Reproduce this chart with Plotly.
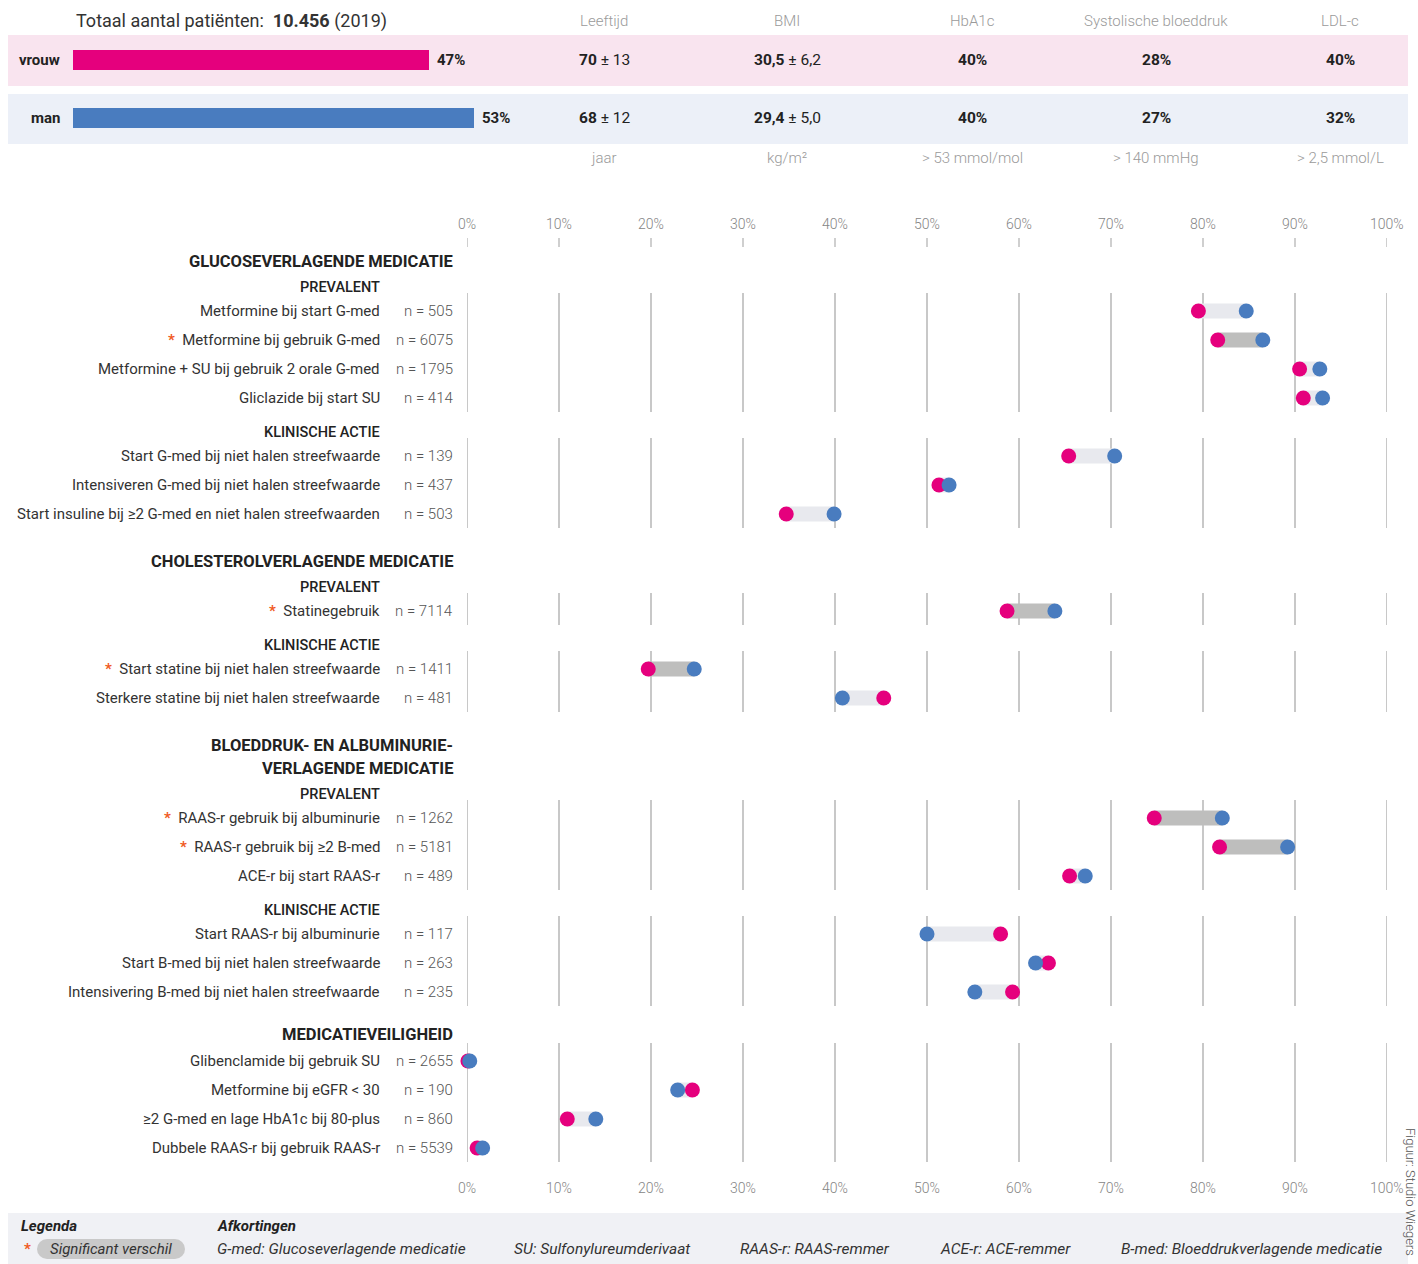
import plotly.graph_objects as go

W, H = 1418, 1264
FONT = "Roboto"

# ---------------- data ----------------
total_patients = "10.456"
year = "2019"
sexes = ["vrouw", "man"]
sex_share = [47, 53]
sex_colors = ["#e5007d", "#497cbf"]
header_cols = ["Leeftijd", "BMI", "HbA1c", "Systolische bloeddruk", "LDL-c"]
header_units = ["jaar", "kg/m²", "> 53 mmol/mol", "> 140 mmHg", "> 2,5 mmol/L"]
vrouw_main = ["70", "30,5", "40%", "28%", "40%"]
vrouw_sd = [" ± 13", " ± 6,2", "", "", ""]
man_main = ["68", "29,4", "40%", "27%", "32%"]
man_sd = [" ± 12", " ± 5,0", "", "", ""]

section_titles = [
    ["GLUCOSEVERLAGENDE MEDICATIE"],
    ["CHOLESTEROLVERLAGENDE MEDICATIE"],
    ["BLOEDDRUK- EN ALBUMINURIE-", "VERLAGENDE MEDICATIE"],
    ["MEDICATIEVEILIGHEID"],
]
row_labels = [
    "Metformine bij start G-med",
    "Metformine bij gebruik G-med",
    "Metformine + SU bij gebruik 2 orale G-med",
    "Gliclazide bij start SU",
    "Start G-med bij niet halen streefwaarde",
    "Intensiveren G-med bij niet halen streefwaarde",
    "Start insuline bij ≥2 G-med en niet halen streefwaarden",
    "Statinegebruik",
    "Start statine bij niet halen streefwaarde",
    "Sterkere statine bij niet halen streefwaarde",
    "RAAS-r gebruik bij albuminurie",
    "RAAS-r gebruik bij ≥2 B-med",
    "ACE-r bij start RAAS-r",
    "Start RAAS-r bij albuminurie",
    "Start B-med bij niet halen streefwaarde",
    "Intensivering B-med bij niet halen streefwaarde",
    "Glibenclamide bij gebruik SU",
    "Metformine bij eGFR < 30",
    "≥2 G-med en lage HbA1c bij 80-plus",
    "Dubbele RAAS-r bij gebruik RAAS-r",
]
row_n = [505, 6075, 1795, 414, 139, 437, 503, 7114, 1411, 481,
         1262, 5181, 489, 117, 263, 235, 2655, 190, 860, 5539]
vrouw_pct = [79.5, 81.6, 90.5, 90.9, 65.4, 51.3, 34.7, 58.7, 19.7, 45.3,
             74.7, 81.8, 65.5, 58.0, 63.2, 59.3, 0.1, 24.5, 10.9, 1.1]
man_pct = [84.7, 86.5, 92.7, 93.0, 70.4, 52.4, 39.9, 63.9, 24.7, 40.8,
           82.1, 89.2, 67.2, 50.0, 61.8, 55.2, 0.3, 22.9, 14.0, 1.7]
significant = [False, True, False, False, False, False, False, True, True, False,
               True, True, False, False, False, False, False, False, False, False]
row_section = [0, 0, 0, 0, 0, 0, 0, 1, 1, 1, 2, 2, 2, 2, 2, 2, 3, 3, 3, 3]
row_subgroup = (["PREVALENT"] * 4 + ["KLINISCHE ACTIE"] * 3 + ["PREVALENT"]
                + ["KLINISCHE ACTIE"] * 2 + ["PREVALENT"] * 3
                + ["KLINISCHE ACTIE"] * 3 + [""] * 4)
tick_vals = [0, 10, 20, 30, 40, 50, 60, 70, 80, 90, 100]
abbreviations = [
    "G-med: Glucoseverlagende medicatie",
    "SU: Sulfonylureumderivaat",
    "RAAS-r: RAAS-remmer",
    "ACE-r: ACE-remmer",
    "B-med: Bloeddrukverlagende medicatie",
]

# ---------------- layout computation ----------------
START_Y = 261
TITLE_LINE = 23
TITLE_TO_SUB = 26
TITLE_TO_ROW = 27
SUB_TO_ROW = 24
ROW = 29
ROW_TO_SUB = 34
ROW_TO_TITLE = 47
ROW_TO_TITLE_NOSUB = 42

row_y, titles, subs, segments = [], [], [], []
prev_sec, prev_sub = None, None
seg_start = None
y = START_Y
for i in range(len(row_labels)):
    sec, sub = row_section[i], row_subgroup[i]
    if sec != prev_sec:
        if prev_sec is not None:
            segments.append((seg_start, row_y[-1]))
            y = row_y[-1] + (ROW_TO_TITLE if sub else ROW_TO_TITLE_NOSUB)
        last = y
        for line in section_titles[sec]:
            titles.append((line, y))
            last = y
            y += TITLE_LINE
        if sub:
            sy = last + TITLE_TO_SUB
            subs.append((sub, sy))
            ry = sy + SUB_TO_ROW
        else:
            ry = last + TITLE_TO_ROW
        seg_start = ry
    elif sub != prev_sub:
        segments.append((seg_start, row_y[-1]))
        sy = row_y[-1] + ROW_TO_SUB
        subs.append((sub, sy))
        ry = sy + SUB_TO_ROW
        seg_start = ry
    else:
        ry = row_y[-1] + ROW
    row_y.append(ry)
    prev_sec, prev_sub = sec, sub
segments.append((seg_start, row_y[-1]))

LABEL_X = 382
N_X = 455
HEADER_ROW_Y = [60, 118]
COL_X = [604, 787, 972, 1156, 1340]


def px(x):
    return x / W


def py(y):
    return 1 - y / H


def txt(x, y, s, size=15, color="#333333", anchor="left", weight=400,
        italic=False, angle=0, xref="x4"):
    return dict(x=x, y=y, xref=xref, yref="y", text=s, showarrow=False,
                xanchor=anchor, yanchor="middle", textangle=angle,
                font=dict(family=FONT, size=size, color=color, weight=weight,
                          style="italic" if italic else "normal"))


def band(x0, x1, y0, y1, color):
    return dict(type="rect", xref="paper", yref="paper", x0=px(x0), x1=px(x1),
                y0=py(y1), y1=py(y0), fillcolor=color, line=dict(width=0), layer="below")


fig = go.Figure()

# pixel-space helper subplot (invisible)
fig.add_trace(go.Scatter(x=[0, W], y=[0, H], xaxis="x4", yaxis="y",
                         mode="markers", marker=dict(opacity=0),
                         hoverinfo="skip", showlegend=False))

shapes = []
annotations = []

# header bands + legend band (paper-referenced so they sit below every subplot)
shapes.append(band(8, 1408, 35, 86, "#f9e4ef"))
shapes.append(band(8, 1408, 94, 144, "#ecf0f8"))
shapes.append(band(8, 1408, 1213, 1264, "#f0f1f5"))

# header share bars
fig.add_trace(go.Bar(x=sex_share, y=HEADER_ROW_Y, orientation="h", width=20,
                     marker=dict(color=sex_colors, line=dict(width=0)),
                     xaxis="x2", yaxis="y", hoverinfo="skip", showlegend=False))
for s, v, hy in zip(sexes, sex_share, HEADER_ROW_Y):
    annotations.append(txt(62, hy, f"<b>{s}</b>", size=15, color="#222222", anchor="right"))
    a = txt(v, hy, f"<b>{v}%</b>", size=15, color="#222222", xref="x2")
    a["xshift"] = 6
    annotations.append(a)

annotations.append(txt(74, 21, f"Totaal aantal patiënten:  <b>{total_patients}</b> ({year})",
                       size=18, color="#333333"))
for cx, c, u in zip(COL_X, header_cols, header_units):
    annotations.append(txt(cx, 21, c, size=15, color="#9a9a9a", anchor="center", weight=300))
    annotations.append(txt(cx, 158, u, size=15, color="#9a9a9a", anchor="center", weight=300))
for cx, m, sd in zip(COL_X, vrouw_main, vrouw_sd):
    annotations.append(txt(cx, HEADER_ROW_Y[0], f"<b>{m}</b>{sd}", size=15.5,
                           color="#222222", anchor="center"))
for cx, m, sd in zip(COL_X, man_main, man_sd):
    annotations.append(txt(cx, HEADER_ROW_Y[1], f"<b>{m}</b>{sd}", size=15.5,
                           color="#222222", anchor="center"))

# axis tick labels + small top ticks + segmented gridlines
for t in tick_vals:
    annotations.append(txt(t, 224, f"{t}%", size=14, color="#858585", anchor="center",
                           weight=300, xref="x"))
    annotations.append(txt(t, 1188, f"{t}%", size=14, color="#858585", anchor="center",
                           weight=300, xref="x"))
    shapes.append(dict(type="line", xref="x", yref="y", x0=t, x1=t, y0=238, y1=247,
                       line=dict(color="#b5b5b5", width=1.3), layer="below"))
    for (a0, b0) in segments:
        shapes.append(dict(type="line", xref="x", yref="y", x0=t, x1=t,
                           y0=a0 - 18, y1=b0 + 14,
                           line=dict(color="#ababab", width=1.3), layer="below"))

# section titles and subgroup headings
for line, ty in titles:
    annotations.append(txt(N_X, ty, f"<b>{line}</b>", size=16.5, color="#222222", anchor="right"))
for sub, sy in subs:
    annotations.append(txt(LABEL_X, sy, sub, size=14.5, color="#222222", anchor="right", weight=500))

# row labels
for lab, n, sig, ry in zip(row_labels, row_n, significant, row_y):
    s = lab
    if sig:
        s = "<span style='color:#f05a22'><b>*</b></span>  " + lab
    annotations.append(txt(LABEL_X, ry, s, size=15, color="#333333", anchor="right"))
    annotations.append(txt(N_X, ry, f"n = {n}", size=15, color="#555555", anchor="right", weight=300))

# connectors
for flag, col in [(False, "#e8e9ee"), (True, "#bebebd")]:
    xs, ys = [], []
    for v, m, sig, ry in zip(vrouw_pct, man_pct, significant, row_y):
        if sig == flag:
            xs += [v, m, None]
            ys += [ry, ry, None]
    fig.add_trace(go.Scatter(x=xs, y=ys, mode="lines", xaxis="x", yaxis="y",
                             line=dict(color=col, width=15), hoverinfo="skip",
                             showlegend=False, cliponaxis=False))

# dots
for name, vals, col in [("vrouw", vrouw_pct, sex_colors[0]), ("man", man_pct, sex_colors[1])]:
    fig.add_trace(go.Scatter(x=vals, y=row_y, mode="markers", xaxis="x", yaxis="y",
                             marker=dict(color=col, size=15, line=dict(width=0)),
                             name=name, showlegend=False, cliponaxis=False))

# legend / abbreviations
annotations.append(txt(19, 1226, "<b>Legenda</b>", size=15, color="#222222", italic=True))
annotations.append(txt(215, 1226, "<b>Afkortingen</b>", size=15, color="#222222", italic=True))
shapes.append(dict(type="rect", xref="x4", yref="y", x0=47, x1=175, y0=1239, y1=1259,
                   fillcolor="#c9c9c9", line=dict(width=0)))
shapes.append(dict(type="circle", xref="x4", yref="y", x0=37, x1=57, y0=1239, y1=1259,
                   fillcolor="#c9c9c9", line=dict(width=0)))
shapes.append(dict(type="circle", xref="x4", yref="y", x0=165, x1=185, y0=1239, y1=1259,
                   fillcolor="#c9c9c9", line=dict(width=0)))
annotations.append(txt(27, 1249, "<b>*</b>", size=15, color="#f05a22", anchor="center"))
annotations.append(txt(111, 1249, "Significant verschil", size=15, color="#333333",
                       anchor="center", italic=True))
for ax, ab in zip([215, 512, 738, 938, 1119], abbreviations):
    annotations.append(txt(ax, 1249, ab, size=15.5, color="#333333", italic=True))

annotations.append(txt(1411, 1192, "Figuur: Studio Wiegers", size=13, color="#555555",
                       anchor="center", angle=90, weight=300))

hidden = dict(showgrid=False, zeroline=False, showticklabels=False, ticks="",
              showline=False, fixedrange=True)
fig.update_layout(
    width=W, height=H,
    margin=dict(l=0, r=0, t=0, b=0),
    paper_bgcolor="white", plot_bgcolor="rgba(0,0,0,0)",
    xaxis=dict(domain=[467 / W, 1387 / W], range=[0, 100], anchor="y", **hidden),
    xaxis2=dict(domain=[73 / W, 830 / W], range=[0, 100], anchor="y", **hidden),
    xaxis4=dict(domain=[0, 1], range=[0, W], anchor="y", **hidden),
    yaxis=dict(domain=[0, 1], range=[H, 0], anchor="x", **hidden),
    shapes=shapes, annotations=annotations,
    showlegend=False, bargap=0,
    font=dict(family=FONT),
)

fig.write_html("out.html", post_script="document.body.style.margin='0';",
               config={"displayModeBar": False})
